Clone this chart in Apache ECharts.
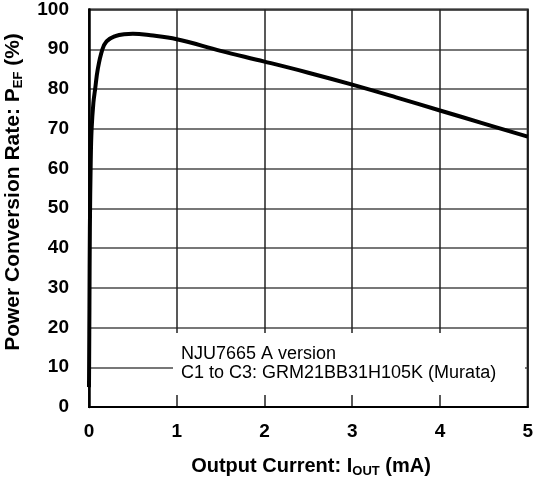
<!DOCTYPE html>
<html>
<head>
<meta charset="utf-8">
<script src="https://cdn.jsdelivr.net/npm/echarts@6/dist/echarts.min.js"></script>
<style>
html,body{margin:0;padding:0;background:#fff;}
#chart{width:536px;height:479px;}
</style>
</head>
<body>
<div id="chart"></div>
<script>
// output current (mA) / conversion rate (%)
var iout = [0, 0.005, 0.01, 0.02, 0.03, 0.05, 0.07, 0.1, 0.15, 0.2, 0.3, 0.4, 0.5, 0.7, 1.0, 1.5, 2, 2.5, 3, 3.5, 4, 4.5, 5];
var pef  = [5, 25, 45, 62, 70, 76.5, 80, 85, 89.8, 92, 93.3, 93.8, 93.9, 93.5, 92.5, 89.6, 86.9, 84.1, 81.1, 77.9, 74.6, 71.3, 68.0];
var noteLines = ['NJU7665 A version', 'C1 to C3: GRM21BB31H105K (Murata)'];

var pts = [];
for (var i = 0; i < iout.length; i++) pts.push([iout[i], pef[i]]);

var FONT = 'Liberation Sans, Arial';
var myChart = echarts.init(document.getElementById('chart'));
var option = {
  animation: false,
  backgroundColor: '#fff',
  grid: {left: 89, right: 7, top: 6, bottom: 72, show: true, borderColor: '#000', borderWidth: 2},
  xAxis: {
    type: 'value', min: 0, max: 5, interval: 1,
    axisLine: {show: true, onZero: false, lineStyle: {color: '#000', width: 2}},
    axisTick: {show: false},
    splitLine: {show: true, lineStyle: {color: '#222', width: 1.5}},
    axisLabel: {color: '#000', fontFamily: FONT, fontWeight: 'bold', fontSize: 19, margin: 15}
  },
  yAxis: {
    type: 'value', min: 0, max: 100, interval: 10,
    axisLine: {show: true, lineStyle: {color: '#000', width: 2.5}},
    axisTick: {show: false},
    splitLine: {show: true, lineStyle: {color: '#4a4a4a', width: 1.5}},
    axisLabel: {color: '#000', fontFamily: FONT, fontWeight: 'bold', fontSize: 19, margin: 20}
  },
  series: [{
    type: 'line', data: pts, smooth: 0.4, showSymbol: false,
    lineStyle: {color: '#000', width: 4}, z: 5
  }],
  graphic: [
    {type: 'rect', shape: {x: 173, y: 333, width: 352, height: 62}, style: {fill: '#fff'}, z: 10},
    {type: 'text', x: 181, y: 354, z: 11, style: {text: noteLines[0], fill: '#000', font: '18px Liberation Sans, Arial', textVerticalAlign: 'middle'}},
    {type: 'text', x: 181, y: 373, z: 11, style: {text: noteLines[1], fill: '#000', font: '18px Liberation Sans, Arial', textVerticalAlign: 'middle'}},
    {type: 'text', x: 311, y: 466, z: 11, style: {
      text: '{a|Output Current: I}{s|OUT}{a| (mA)}', textAlign: 'center', textVerticalAlign: 'middle',
      rich: {a: {fontSize: 20, fontWeight: 'bold', fontFamily: FONT, fill: '#000'},
             s: {fontSize: 13, fontWeight: 'bold', fontFamily: FONT, fill: '#000', padding: [10, 0, 0, 0]}}
    }},
    {type: 'text', x: 13, y: 192, rotation: Math.PI / 2, z: 11, style: {
      text: '{a|Power Conversion Rate: P}{s|EF}{a| (%)}', textAlign: 'center', textVerticalAlign: 'middle',
      rich: {a: {fontSize: 21, fontWeight: 'bold', fontFamily: FONT, fill: '#000'},
             s: {fontSize: 13, fontWeight: 'bold', fontFamily: FONT, fill: '#000', padding: [10, 0, 0, 0]}}
    }}
  ]
};
myChart.setOption(option);
</script>
</body>
</html>
